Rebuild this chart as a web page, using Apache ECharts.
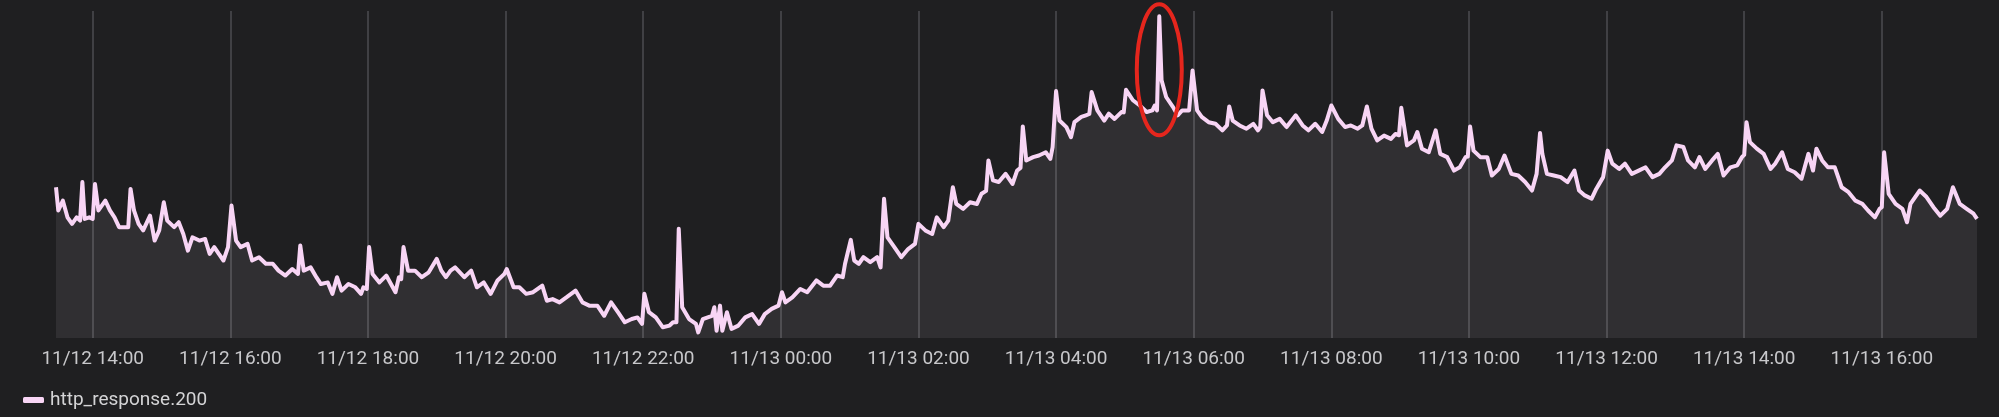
<!DOCTYPE html>
<html>
<head>
<meta charset="utf-8">
<script src="https://cdn.jsdelivr.net/npm/echarts@6/dist/echarts.min.js"></script>
<style>
  html, body { margin: 0; padding: 0; background: #1f1f21; }
  #chart { width: 1999px; height: 417px; }
</style>
</head>
<body>
<div id="chart"></div>
<script>
// Time of each sample, in minutes since 11/12 00:00
const minutes = [
  808, 810, 814, 818, 822, 826, 829, 831, 833, 837, 840, 842, 845, 851, 855, 859, 863, 868, 871, 873,
  876, 880, 884, 890, 894, 898, 902, 905, 911, 915, 919, 923, 927, 933, 938, 942, 946, 950, 954, 958,
  961, 965, 969, 975, 979, 985, 991, 997, 1002, 1008, 1014, 1019, 1021, 1024, 1030, 1035, 1039, 1045, 1049, 1053,
  1057, 1063, 1069, 1074, 1076, 1079, 1081, 1084, 1090, 1096, 1104, 1107, 1109, 1111, 1115, 1121, 1127, 1133, 1140, 1144,
  1148, 1152, 1156, 1164, 1170, 1175, 1181, 1187, 1193, 1199, 1201, 1207, 1212, 1218, 1224, 1232, 1236, 1241, 1247, 1253,
  1261, 1267, 1273, 1280, 1286, 1292, 1298, 1304, 1310, 1315, 1319, 1321, 1325, 1331, 1337, 1343, 1346, 1349, 1351, 1354,
  1360, 1366, 1368, 1372, 1380, 1382, 1384, 1387, 1389, 1393, 1397, 1403, 1409, 1415, 1421, 1426, 1432, 1438, 1441, 1444,
  1450, 1457, 1463, 1471, 1477, 1483, 1489, 1494, 1496, 1501, 1504, 1508, 1512, 1518, 1524, 1527, 1530, 1533, 1539, 1545,
  1551, 1557, 1560, 1566, 1572, 1576, 1582, 1586, 1590, 1593, 1599, 1605, 1611, 1615, 1619, 1621, 1625, 1630, 1636, 1642,
  1646, 1649, 1651, 1654, 1660, 1665, 1671, 1675, 1677, 1680, 1683, 1689, 1693, 1696, 1702, 1706, 1709, 1711, 1716, 1722,
  1726, 1731, 1737, 1739, 1741, 1747, 1753, 1759, 1764, 1766, 1768, 1770, 1772, 1776, 1782, 1786, 1790, 1796, 1797, 1799,
  1803, 1807, 1813, 1819, 1825, 1829, 1831, 1834, 1840, 1846, 1852, 1856, 1858, 1860, 1864, 1869, 1875, 1881, 1889, 1895,
  1900, 1906, 1912, 1916, 1920, 1926, 1932, 1937, 1943, 1947, 1951, 1955, 1960, 1966, 1972, 1976, 1979, 1981, 1986, 1992,
  1995, 1999, 2005, 2011, 2015, 2021, 2027, 2032, 2037, 2039, 2041, 2044, 2050, 2056, 2060, 2066, 2071, 2077, 2083, 2089,
  2095, 2099, 2102, 2104, 2108, 2114, 2120, 2126, 2132, 2136, 2141, 2147, 2151, 2157, 2161, 2165, 2171, 2176, 2182, 2188,
  2194, 2200, 2206, 2211, 2217, 2221, 2227, 2231, 2237, 2241, 2246, 2252, 2257, 2262, 2268, 2274, 2278, 2280, 2282, 2285,
  2291, 2297, 2303, 2307, 2313, 2318, 2324, 2330, 2336, 2340, 2343, 2348, 2353, 2359, 2365, 2371, 2377, 2383, 2388, 2394,
  2398, 2400, 2402, 2406, 2412, 2418, 2422, 2425, 2433, 2439, 2445, 2451, 2457, 2462, 2468, 2474, 2480, 2483
];

// http_response.200 (relative units)
const values = [
  46.1, 39.0, 42.0, 36.9, 34.9, 36.9, 35.9, 47.7, 36.4, 36.9, 36.4, 47.1, 39.0, 42.0, 39.0, 36.9, 33.9, 33.9, 33.9, 45.6,
  39.0, 34.9, 32.9, 37.4, 29.8, 32.9, 41.5, 35.9, 33.9, 35.4, 31.8, 26.7, 30.8, 29.8, 30.3, 25.7, 27.8, 25.7, 23.7, 27.8,
  40.5, 29.8, 27.8, 28.8, 23.7, 24.7, 22.7, 22.7, 20.6, 19.1, 21.1, 19.6, 28.3, 20.6, 21.6, 18.6, 16.5, 17.0, 13.5, 18.6,
  14.5, 16.5, 15.5, 13.5, 15.5, 15.0, 27.8, 19.6, 17.0, 19.1, 14.0, 18.6, 18.0, 27.8, 20.6, 20.6, 18.6, 20.1, 24.2, 20.6,
  18.6, 20.6, 21.6, 18.6, 20.6, 15.5, 17.0, 13.5, 17.6, 19.6, 21.1, 15.5, 15.5, 13.5, 14.0, 16.0, 11.4, 11.9, 10.9, 12.4,
  14.5, 10.9, 9.9, 9.9, 6.8, 10.9, 7.9, 4.8, 5.8, 6.3, 4.3, 13.5, 7.9, 6.3, 3.3, 3.8, 4.8, 4.8, 33.4, 9.4,
  5.8, 4.3, 1.7, 5.8, 6.8, 9.4, 2.2, 9.9, 2.2, 7.9, 2.8, 3.8, 6.3, 7.3, 4.3, 7.3, 8.9, 9.9, 14.0, 10.9,
  12.4, 15.0, 14.0, 17.6, 16.0, 16.0, 19.1, 18.6, 22.7, 30.0, 23.7, 22.7, 24.7, 23.2, 24.7, 21.6, 42.6, 30.8, 27.8, 24.7,
  27.2, 28.8, 34.9, 32.9, 31.8, 36.9, 33.9, 35.9, 46.1, 41.0, 39.5, 41.5, 41.0, 44.1, 45.0, 54.3, 48.2, 47.7, 50.2, 47.1,
  51.2, 52.0, 64.7, 54.3, 55.3, 55.8, 56.8, 54.8, 58.4, 75.5, 66.5, 64.5, 61.4, 66.0, 67.6, 68.1, 68.5, 75.2, 69.6, 66.5,
  68.6, 67.0, 69.1, 69.0, 75.9, 72.7, 71.1, 69.1, 69.6, 71.1, 69.6, 98.4, 78.8, 73.7, 70.6, 68.1, 69.6, 69.6, 69.0, 81.8,
  69.6, 67.6, 66.0, 65.5, 63.5, 65.0, 70.8, 66.5, 65.0, 64.0, 65.5, 63.5, 64.5, 75.7, 68.1, 66.0, 67.0, 64.5, 68.1, 65.0,
  63.5, 65.5, 63.0, 66.5, 71.1, 67.0, 64.5, 65.0, 64.0, 65.0, 70.8, 64.0, 60.4, 61.9, 60.9, 62.4, 62.0, 70.4, 58.9, 60.4,
  63.0, 57.9, 56.8, 63.5, 56.3, 55.3, 51.2, 52.2, 55.3, 55.5, 64.7, 57.3, 55.3, 55.3, 49.7, 51.7, 55.8, 50.2, 49.7, 47.7,
  45.1, 50.2, 62.7, 56.3, 50.2, 49.7, 49.2, 47.7, 51.2, 45.1, 43.6, 42.6, 45.6, 49.2, 57.3, 53.3, 51.7, 53.3, 50.2, 51.2,
  52.2, 49.2, 50.2, 52.2, 54.3, 58.9, 58.4, 54.3, 52.2, 55.3, 51.7, 54.3, 56.3, 49.7, 52.2, 52.8, 55.3, 56.0, 66.0, 59.9,
  57.9, 56.3, 51.7, 53.3, 56.8, 51.7, 50.7, 48.7, 56.3, 51.2, 57.9, 54.3, 52.2, 52.2, 46.1, 44.6, 42.0, 41.0, 39.0, 36.9,
  39.5, 40.0, 56.8, 44.1, 41.0, 39.5, 35.4, 41.0, 45.1, 43.1, 40.0, 37.4, 39.5, 46.1, 41.0, 39.5, 38.0, 36.4
];

// Tick positions (minutes since 11/12 00:00): 11/12 14:00 ... 11/13 16:00, every 2 h
const tickMinutes = [840, 960, 1080, 1200, 1320, 1440, 1560, 1680, 1800, 1920, 2040, 2160, 2280, 2400];

const seriesName = 'http_response.200';
const rangeStartMinute = 808;   // 11/12 13:28
const rangeEndMinute = 2483;    // 11/13 17:23
const yRange = [0, 100];
// Annotated spike (red ellipse)
const annotationMinute = 1770;
const annotationCenterValue = 82;

const data = minutes.map((m, i) => [m, values[i]]);

function pad(n) { return (n < 10 ? '0' : '') + n; }
function fmt(m) {
  const day = 12 + Math.floor(m / 1440);
  const rem = m % 1440;
  return '11/' + pad(day) + ' ' + pad(Math.floor(rem / 60)) + ':' + pad(rem % 60);
}

const chart = echarts.init(document.getElementById('chart'), null, { renderer: 'canvas' });
chart.setOption({
  backgroundColor: '#1f1f21',
  animation: false,
  grid: { left: 56, right: 22, top: 11, bottom: 79 },
  legend: {
    data: [seriesName],
    left: 23, top: 389, padding: 0,
    icon: 'roundRect', itemWidth: 21, itemHeight: 6, itemGap: 10,
    textStyle: { color: '#d4d4d6', fontSize: 19, fontFamily: 'Roboto', lineHeight: 22, padding: [0, 0, 0, 1] }
  },
  xAxis: {
    type: 'value',
    min: rangeStartMinute,
    max: rangeEndMinute,
    axisLine: { show: false },
    axisTick: { show: false, customValues: tickMinutes },
    axisLabel: {
      color: '#c8c8cb', fontSize: 19, fontFamily: 'Roboto', margin: 12,
      customValues: tickMinutes,
      formatter: v => fmt(v), hideOverlap: false
    },
    splitLine: { show: true, lineStyle: { color: '#4d4d51', width: 1.5 } }
  },
  yAxis: {
    type: 'value', min: yRange[0], max: yRange[1], show: false,
    splitLine: { show: false }
  },
  series: [{
    name: seriesName,
    type: 'line',
    data: data,
    showSymbol: false,
    symbol: 'none',
    sampling: null,
    color: '#f8d5f5',
    lineStyle: { color: '#f8d5f5', width: 4, join: 'round' },
    areaStyle: { color: 'rgba(255,240,255,0.11)' },
    z: 3
  }]
});

const cx = chart.convertToPixel({ xAxisIndex: 0 }, annotationMinute);
const cy = chart.convertToPixel({ yAxisIndex: 0 }, annotationCenterValue);
chart.setOption({
  graphic: [{
    type: 'ellipse',
    shape: { cx: cx, cy: cy, rx: 22.5, ry: 65.5 },
    style: { fill: 'none', stroke: '#e5261d', lineWidth: 4 },
    z: 100
  }]
});
</script>
</body>
</html>
